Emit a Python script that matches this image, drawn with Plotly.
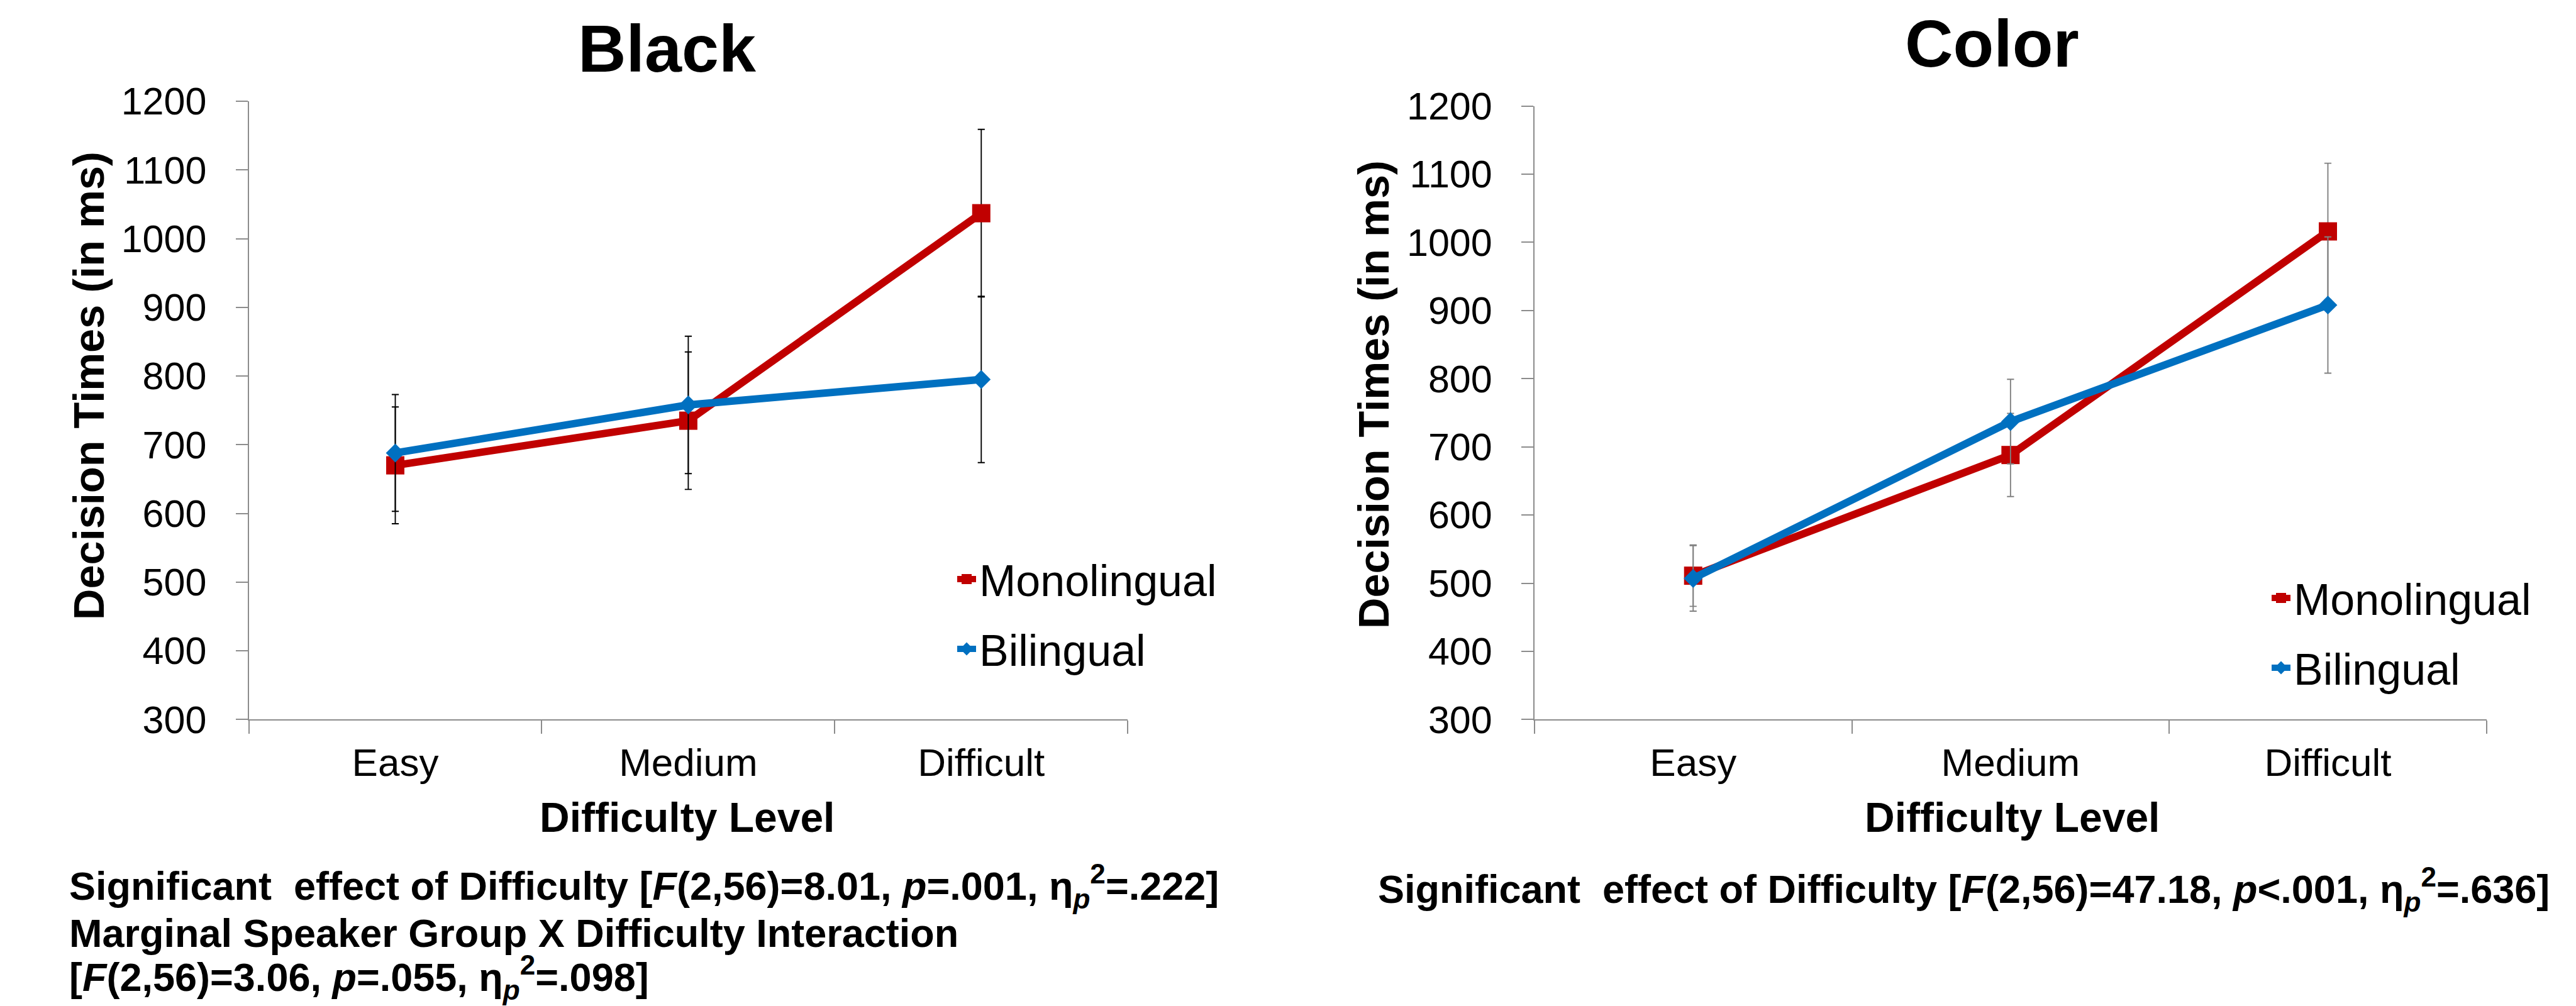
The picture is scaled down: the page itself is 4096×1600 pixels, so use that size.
import plotly.graph_objects as go

# ---------------- data ----------------
categories = ["Easy", "Medium", "Difficult"]

black_mono = [670, 735, 1037]
black_mono_err = [85, 100, 122]
black_bi = [688, 758, 795]
black_bi_err = [85, 100, 121]

color_mono = [511, 688, 1016]
color_mono_err = [45, 61, 100]
color_bi = [507, 737, 908]
color_bi_err = [48, 62, 100]

y_ticks = [300, 400, 500, 600, 700, 800, 900, 1000, 1100, 1200]

panel_titles = ["Black", "Color"]
series_names = ["Monolingual", "Bilingual"]
y_title = "Decision Times (in ms)"
x_title = "Difficulty Level"

left_notes = [
    "<b>Significant\u00a0 effect of Difficulty [<i>F</i>(2,56)=8.01, <i>p</i>=.001, \u03b7<sub><i>p</i></sub><sup>2</sup>=.222]</b>",
    "<b>Marginal Speaker Group X Difficulty Interaction</b>",
    "<b>[<i>F</i>(2,56)=3.06, <i>p</i>=.055, \u03b7<sub><i>p</i></sub><sup>2</sup>=.098]</b>",
]
right_note = "<b>Significant\u00a0 effect of Difficulty [<i>F</i>(2,56)=47.18, <i>p</i>&lt;.001, \u03b7<sub><i>p</i></sub><sup>2</sup>=.636]</b>"

# ---------------- style ----------------
W, H = 4096, 1600
FONT = "Liberation Sans, Arial, sans-serif"
RED = "#C00000"
BLUE = "#0070C0"
AXIS = "#8c8c8c"


def px(x):
    return x / W


def py(y):
    return 1 - y / H


fig = go.Figure()

panels = [
    dict(x="x", y="y", mono=black_mono, me=black_mono_err, bi=black_bi, be=black_bi_err,
         err_color="#000000", legend="legend"),
    dict(x="x2", y="y2", mono=color_mono, me=color_mono_err, bi=color_bi, be=color_bi_err,
         err_color="#808080", legend="legend2"),
]

for i, p in enumerate(panels):
    fig.add_trace(go.Scatter(
        x=categories, y=p["mono"], name=series_names[0], xaxis=p["x"], yaxis=p["y"],
        mode="lines+markers", legend=p["legend"], legendgroup=f"m{i}",
        line=dict(color=RED, width=12),
        marker=dict(symbol="square", size=29, color=RED),
        error_y=dict(type="data", array=p["me"], visible=True, color=p["err_color"],
                     thickness=1.9, width=5.6),
    ))
    fig.add_trace(go.Scatter(
        x=categories, y=p["bi"], name=series_names[1], xaxis=p["x"], yaxis=p["y"],
        mode="lines+markers", legend=p["legend"], legendgroup=f"b{i}",
        line=dict(color=BLUE, width=12),
        marker=dict(symbol="diamond", size=23, color=BLUE),
        error_y=dict(type="data", array=p["be"], visible=True, color=p["err_color"],
                     thickness=1.9, width=5.6),
    ))

xaxis_common = dict(
    type="category", range=[-0.5, 2.5], showline=True, linecolor=AXIS, linewidth=2,
    ticks="outside", tickson="boundaries", ticklen=21, tickcolor=AXIS, tickwidth=2,
    tickfont=dict(family=FONT, size=62, color="#000000"), showgrid=False, zeroline=False,
    ticklabelstandoff=13, automargin=False, fixedrange=True,
)
yaxis_common = dict(
    range=[300, 1200], tickvals=y_ticks, showline=True, linecolor=AXIS, linewidth=2,
    ticks="outside", ticklen=19, tickcolor=AXIS, tickwidth=2,
    tickfont=dict(family=FONT, size=61, color="#000000"), showgrid=False, zeroline=False,
    ticklabelstandoff=34, automargin=False, fixedrange=True,
)

legend_common = dict(
    font=dict(family=FONT, size=70, color="#000000"), bgcolor="rgba(0,0,0,0)",
    borderwidth=0, itemsizing="trace", tracegroupgap=17, xanchor="left", yanchor="top",
)

fig.update_layout(
    width=W, height=H, margin=dict(l=0, r=0, t=0, b=0),
    paper_bgcolor="white", plot_bgcolor="white",
    font=dict(family=FONT, color="#000000"),
    xaxis=dict(domain=[px(387.6), px(1785.2)], anchor="y", **xaxis_common),
    yaxis=dict(domain=[py(1136.4), py(153.0)], anchor="x", **yaxis_common),
    xaxis2=dict(domain=[px(2431.9), px(3945.8)], anchor="y2", **xaxis_common),
    yaxis2=dict(domain=[py(1136.4), py(160.5)], anchor="x2", **yaxis_common),
    legend=dict(x=px(1509), y=py(861), **legend_common),
    legend2=dict(x=px(3599), y=py(891), **legend_common),
    showlegend=True,
)

annotations = []
# panel titles
annotations.append(dict(text=f"<b>{panel_titles[0]}</b>", x=px(1053), y=py(68.6), xref="paper", yref="paper",
                        xanchor="center", yanchor="middle", showarrow=False,
                        font=dict(family=FONT, size=106, color="#000000")))
annotations.append(dict(text=f"<b>{panel_titles[1]}</b>", x=px(3159), y=py(61.1), xref="paper", yref="paper",
                        xanchor="center", yanchor="middle", showarrow=False,
                        font=dict(family=FONT, size=106, color="#000000")))
# y titles
for xc, yc in [(134, 606), (2177, 620)]:
    annotations.append(dict(text=f"<b>{y_title}</b>", x=px(xc), y=py(yc), xref="paper", yref="paper",
                            xanchor="center", yanchor="middle", textangle=-90, showarrow=False,
                            font=dict(family=FONT, size=68.5, color="#000000")))
# x titles
for xc in [1084, 3191]:
    annotations.append(dict(text=f"<b>{x_title}</b>", x=px(xc), y=py(1292), xref="paper", yref="paper",
                            xanchor="center", yanchor="middle", showarrow=False,
                            font=dict(family=FONT, size=66, color="#000000")))
# notes
for txt, yc in zip(left_notes, [1401, 1476, 1546]):
    annotations.append(dict(text=txt, x=px(100), y=py(yc), xref="paper", yref="paper",
                            xanchor="left", yanchor="middle", showarrow=False,
                            font=dict(family=FONT, size=63, color="#000000")))
annotations.append(dict(text=right_note, x=px(2181), y=py(1406), xref="paper", yref="paper",
                        xanchor="left", yanchor="middle", showarrow=False,
                        font=dict(family=FONT, size=63, color="#000000")))

fig.update_layout(annotations=annotations)

fig.write_html("out.html")
